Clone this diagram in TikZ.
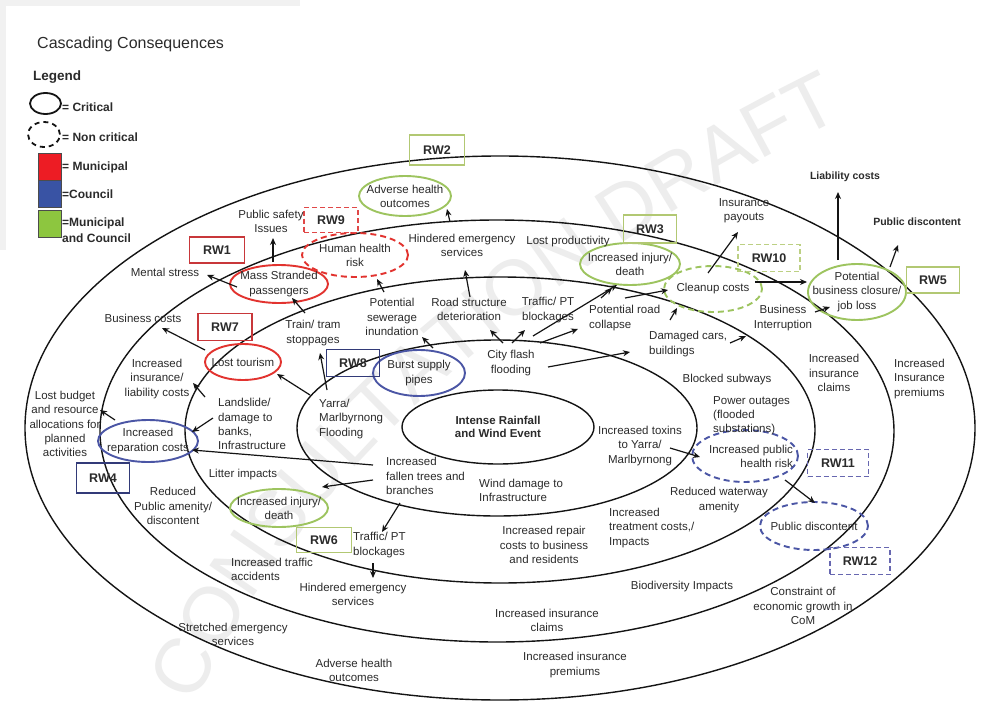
\documentclass[tikz,border=0pt]{standalone}
\usepackage{fontspec}
\setmainfont{Liberation Sans}
\usetikzlibrary{shapes.geometric,arrows.meta,decorations.text}

\definecolor{ink}{HTML}{2B2B2B}
\definecolor{ringc}{HTML}{141414}
\definecolor{mred}{HTML}{E2332F}
\definecolor{mblue}{HTML}{4B56A5}
\definecolor{mgreen}{HTML}{9DC45F}
\definecolor{swred}{HTML}{ED1C24}
\definecolor{swblue}{HTML}{3953A4}
\definecolor{swgreen}{HTML}{8DC63F}
\definecolor{boxred}{HTML}{C8373A}
\definecolor{boxgreen}{HTML}{B2C873}
\definecolor{boxnavy}{HTML}{323A78}
\definecolor{dashred}{HTML}{E04848}
\definecolor{dashgreen}{HTML}{BCD083}
\definecolor{dashblue}{HTML}{6767B0}
\definecolor{wmgray}{HTML}{EDEDED}
\definecolor{edgegray}{HTML}{F1F1F1}

\newcommand\wmfont{\fontsize{78}{78}\selectfont}

\begin{document}
\begin{tikzpicture}[x=1pt,y=-1pt,
  txt/.style={font=\fontsize{11.5}{14.2}\selectfont, text=ink, align=center, inner sep=1pt},
  boldtxt/.style={txt, font=\bfseries\fontsize{10.5}{13}\selectfont},
  legtxt/.style={font=\bfseries\fontsize{12}{15}\selectfont, text=ink, anchor=west, align=left, inner sep=0pt},
  ring/.style={ellipse, draw=ringc, line width=1.4pt, inner sep=0pt},
  bub/.style={ellipse, line width=1.9pt, inner sep=0pt},
  redE/.style={bub, draw=mred},
  blueE/.style={bub, draw=mblue},
  greenE/.style={bub, draw=mgreen},
  dashE/.style={dash pattern=on 6pt off 4pt},
  rwbox/.style={rectangle, line width=1.2pt, font=\bfseries\fontsize{12.5}{14}\selectfont, text=ink, inner sep=0pt},
  dashbox/.style={dash pattern=on 5pt off 3pt},
  arr/.style={line width=1.2pt, draw=ringc, -{Stealth[length=7pt,width=6pt]}},
]
\useasboundingbox (0,0) rectangle (1001,709);
\fill[white] (0,0) rectangle (1001,709);
\fill[edgegray] (0,0) rectangle (300,6);
\fill[edgegray] (0,0) rectangle (6,250);

% faint watermark along an arc
\path[decorate, decoration={text along path, text={|\wmfont|CONSULTATION DRAFT}, text color=wmgray}]
  (195,705) .. controls (300,470) and (545,255) .. (900,90);

% title and legend
\node[anchor=west, inner sep=0pt, text=ink, font=\fontsize{16}{18}\selectfont] (title) at (37,44) {Cascading Consequences};
\node[anchor=west, inner sep=0pt, text=ink, font=\bfseries\fontsize{13.5}{15}\selectfont] (legend) at (33,77) {Legend};
\node[ellipse, draw=ringc, line width=1.8pt, minimum width=31, minimum height=21, inner sep=0pt] (legcrit) at (45.5,103.5) {};
\node[legtxt] (legcritt) at (62,107) {= Critical};
\node[ellipse, draw=ringc, line width=1.8pt, dash pattern=on 5pt off 4pt, minimum width=32, minimum height=25, inner sep=0pt] (legnon) at (44,134.5) {};
\node[legtxt] (legnont) at (62,137) {= Non critical};
\node[rectangle, fill=swred, draw=black!70, line width=0.6pt, minimum width=23, minimum height=27, inner sep=0pt] (swr) at (49.5,166.5) {};
\node[rectangle, fill=swblue, draw=black!70, line width=0.6pt, minimum width=23, minimum height=27, inner sep=0pt] (swb) at (49.5,193.5) {};
\node[rectangle, fill=swgreen, draw=black!70, line width=0.6pt, minimum width=23, minimum height=27, inner sep=0pt] (swg) at (49.5,223.5) {};
\node[legtxt] (swrt) at (62,167) {= Municipal};
\node[legtxt] (swbt) at (62,194) {=Council};
\node[legtxt, font=\bfseries\fontsize{12}{16}\selectfont] (swgt) at (62,230) {=Municipal\\and Council};

% concentric rings
\node[ring, minimum width=950, minimum height=544] (ring5) at (500,428) {};
\node[ring, minimum width=794, minimum height=422] (ring4) at (497,431) {};
\node[ring, minimum width=630, minimum height=306] (ring3) at (500,430) {};
\node[ring, minimum width=400, minimum height=176] (ring2) at (497,428) {};
\node[ring, minimum width=192, minimum height=74, font=\bfseries\fontsize{11.5}{13}\selectfont, text=ink, align=center] (event) at (498,427) {Intense Rainfall\\and Wind Event};

% consequence bubbles
\node[redE, minimum width=98, minimum height=38, label={[txt]center:{Mass Stranded\\passengers}}] (mass) at (279,284) {};
\node[redE, dashE, minimum width=106, minimum height=44, label={[txt]center:{Human health\\risk}}] (humanrisk) at (355,255) {};
\node[greenE, minimum width=92, minimum height=40, label={[txt]center:{Adverse health\\outcomes}}] (adverse) at (405,196) {};
\node[redE, minimum width=76, minimum height=36, label={[txt]center:{Lost tourism}}] (losttour) at (243,362) {};
\node[blueE, minimum width=92, minimum height=46, label={[txt]center:{Burst supply\\pipes}}] (burst) at (419,373) {};
\node[greenE, minimum width=100, minimum height=42, label={[txt]center:{Increased injury/\\death}}] (injury1) at (630,264) {};
\node[greenE, dashE, minimum width=98, minimum height=46, label={[txt]center:{Cleanup costs}}] (cleanup) at (713,289) {};
\node[greenE, minimum width=98, minimum height=56, label={[txt]center:{Potential\\business closure/\\job loss}}] (bizclose) at (857,292) {};
\node[blueE, dashE, minimum width=106, minimum height=52, label={[txt, align=right, xshift=6]center:{Increased public\\health risk}}] (pubhealth) at (745,456) {};
\node[blueE, dashE, minimum width=108, minimum height=48, label={[txt]center:{Public discontent}}] (pubdisc2) at (814,526) {};
\node[blueE, minimum width=100, minimum height=42, label={[txt]center:{Increased\\reparation costs}}] (reparation) at (148,441) {};
\node[greenE, minimum width=98, minimum height=38, label={[txt]center:{Increased injury/\\death}}] (injury2) at (279,508) {};

% responsibility boxes
\node[rwbox, draw=boxred, minimum width=55, minimum height=26] (rw1) at (217,250) {RW1};
\node[rwbox, draw=boxgreen, minimum width=55, minimum height=30] (rw2) at (437,150) {RW2};
\node[rwbox, draw=boxgreen, minimum width=53, minimum height=28] (rw3) at (650,229) {RW3};
\node[rwbox, draw=boxnavy, minimum width=53, minimum height=30] (rw4) at (103,478) {RW4};
\node[rwbox, draw=boxgreen, minimum width=53, minimum height=26] (rw5) at (933,280) {RW5};
\node[rwbox, draw=boxgreen, minimum width=55, minimum height=25] (rw6) at (324,540) {RW6};
\node[rwbox, draw=boxred, minimum width=54, minimum height=27] (rw7) at (225,327) {RW7};
\node[rwbox, draw=boxnavy, minimum width=53, minimum height=27] (rw8) at (353,363) {RW8};
\node[rwbox, dashbox, draw=dashred, minimum width=54, minimum height=25] (rw9) at (331,220) {RW9};
\node[rwbox, dashbox, draw=dashgreen, minimum width=62, minimum height=27] (rw10) at (769,258) {RW10};
\node[rwbox, dashbox, draw=dashblue, minimum width=61, minimum height=27] (rw11) at (838,463) {RW11};
\node[rwbox, dashbox, draw=dashblue, minimum width=60, minimum height=27] (rw12) at (860,561) {RW12};

% consequence texts
\node[txt] (mental) at (165,272) {Mental stress};
\node[txt] (pubsafe) at (271,221) {Public safety\\Issues};
\node[txt] (busc) at (143,318) {Business costs};
\node[txt] (train) at (313,333) {Train/ tram\\stoppages};
\node[txt] (sewer) at (392,317) {Potential\\sewerage\\inundation};
\node[txt] (road) at (469,309) {Road structure\\deterioration};
\node[txt] (traffic1) at (548,310) {Traffic/ PT\\blockages};
\node[txt] (hindered) at (462,245) {Hindered emergency\\services};
\node[txt] (lostprod) at (568,242) {Lost productivity};
\node[txt] (city) at (511,363) {City flash\\flooding};
\node[txt, anchor=west, align=left] (roadcol) at (588,318) {Potential road\\collapse};
\node[txt] (inspay) at (744,211) {Insurance\\payouts};
\node[txt] (bizint) at (783,318) {Business\\Interruption};
\node[boldtxt] (liab) at (845,177) {Liability costs};
\node[boldtxt] (pubdisc1) at (917,222) {Public discontent};
\node[txt, anchor=west, align=left] (damaged) at (648,344) {Damaged cars,\\buildings};
\node[txt] (blocked) at (727,380) {Blocked subways};
\node[txt, anchor=west, align=left] (power) at (712,416) {Power outages\\(flooded\\substations)};
\node[txt] (toxins) at (640,446) {Increased toxins\\to Yarra/\\Marlbyrnong};
\node[txt] (waterway) at (719,500) {Reduced waterway\\amenity};
\node[txt, anchor=west, align=left] (treat) at (608,528) {Increased\\treatment costs,/\\Impacts};
\node[txt] (insclaimR) at (834,373) {Increased\\insurance\\claims};
\node[txt, anchor=west, align=left] (inspremR) at (893,379) {Increased\\Insurance\\premiums};
\node[txt] (biodiv) at (682,587) {Biodiversity Impacts};
\node[txt] (constraint) at (803,606) {Constraint of\\economic growth in\\CoM};
\node[txt] (repair) at (544,545) {Increased repair\\costs to business\\and residents};
\node[txt] (insclaimB) at (547,620) {Increased insurance\\claims};
\node[txt] (inspremB) at (575,665) {Increased insurance\\premiums};
\node[txt] (adverseB) at (354,670) {Adverse health\\outcomes};
\node[txt] (stretched) at (233,634) {Stretched emergency\\services};
\node[txt] (hinderedB) at (353,594) {Hindered emergency\\services};
\node[txt, anchor=west, align=left] (accidents) at (230,569) {Increased traffic\\accidents};
\node[txt, anchor=west, align=left] (traffic2) at (352,545) {Traffic/ PT\\blockages};
\node[txt] (litter) at (243,475) {Litter impacts};
\node[txt] (reduced) at (173,506) {Reduced\\Public amenity/\\discontent};
\node[txt] (lostbudget) at (65,424) {Lost budget\\and resource\\allocations for\\planned\\activities};
\node[txt] (insliab) at (157,379) {Increased\\insurance/\\liability costs};
\node[txt, anchor=west, align=left] (landslide) at (217,424) {Landslide/\\damage to\\banks,\\Infrastructure};
\node[txt, anchor=west, align=left] (yarra) at (318,419) {Yarra/\\Marlbyrnong\\Flooding};
\node[txt, anchor=west, align=left] (fallen) at (385,476) {Increased\\fallen trees and\\branches};
\node[txt, anchor=west, align=left] (wind) at (478,490) {Wind damage to\\Infrastructure};

% cascade arrows
\draw[arr] ([shift={(-42,3)}]mass.center) -- ([shift={(42,3)}]mental.center);
\draw[arr] ([shift={(-6,-22)}]mass.center) -- ([shift={(2,17)}]pubsafe.center);
\draw[arr] ([shift={(-8,-20)}]train.center) -- ([shift={(13,14)}]mass.center);
\draw[arr] ([shift={(-38,-12)}]losttour.center) -- ([shift={(19,10)}]busc.center);
\draw[arr] ([shift={(-8,-24)}]yarra.west) -- ([shift={(34,12)}]losttour.center);
\draw[arr] ([shift={(9,-29)}]yarra.west) -- ([shift={(7,20)}]train.center);
\draw[arr] ([shift={(14,-25)}]burst.center) -- ([shift={(30,20)}]sewer.center);
\draw[arr] ([shift={(-8,-25)}]sewer.center) -- ([shift={(22,24)}]humanrisk.center);
\draw[arr] ([shift={(1,-12)}]road.center) -- ([shift={(3,25)}]hindered.center);
\draw[arr] ([shift={(-12,-23)}]hindered.center) -- ([shift={(42,13)}]adverse.center);
\draw[arr] ([shift={(-8,-20)}]city.center) -- ([shift={(21,21)}]road.center);
\draw[arr] ([shift={(1,-20)}]city.center) -- ([shift={(-23,20)}]traffic1.center);
\draw[arr] ([shift={(22,-27)}]city.center) -- ([shift={(-13,21)}]injury1.center);
\draw[arr] ([shift={(29,-20)}]city.center) -- ([shift={(-10,11)}]roadcol.west);
\draw[arr] ([shift={(37,4)}]city.center) -- ([shift={(-18,8)}]damaged.west);
\draw[arr] ([shift={(13,-20)}]roadcol.west) -- ([shift={(-18,24)}]injury1.center);
\draw[arr] ([shift={(37,-20)}]roadcol.west) -- ([shift={(-45,1)}]cleanup.center);
\draw[arr] ([shift={(22,-24)}]damaged.west) -- ([shift={(-36,19)}]cleanup.center);
\draw[arr] ([shift={(-5,-16)}]cleanup.center) -- ([shift={(-6,21)}]inspay.center);
\draw[arr] ([shift={(42,-7)}]cleanup.center) -- ([shift={(-50,-10)}]bizclose.center);
\draw[arr] ([shift={(32,-6)}]bizint.center) -- ([shift={(-27,15)}]bizclose.center);
\draw[arr] ([shift={(-19,-32)}]bizclose.center) -- ([shift={(-7,15)}]liab.center);
\draw[arr] ([shift={(33,-25)}]bizclose.center) -- ([shift={(-19,23)}]pubdisc1.center);
\draw[arr] ([shift={(82,-1)}]damaged.west) -- ([shift={(-37,18)}]bizint.center);
\draw[arr] ([shift={(30,2)}]toxins.center) -- ([shift={(-45,1)}]pubhealth.center);
\draw[arr] ([shift={(40,24)}]pubhealth.center) -- ([shift={(1,-23)}]pubdisc2.center);
\draw[arr] ([shift={(-12,-11)}]fallen.west) -- ([shift={(44,9)}]reparation.center);
\draw[arr] ([shift={(-12,4)}]fallen.west) -- ([shift={(43,-21)}]injury2.center);
\draw[arr] ([shift={(15,27)}]fallen.west) -- ([shift={(30,-13)}]traffic2.west);
\draw[arr] ([shift={(21,18)}]traffic2.west) -- ([shift={(20,-16)}]hinderedB.center);
\draw[arr] ([shift={(-4,-6)}]landslide.west) -- ([shift={(44,-9)}]reparation.center);
\draw[arr] ([shift={(-12,-27)}]landslide.west) -- ([shift={(36,4)}]insliab.center);
\draw[arr] ([shift={(-33,-21)}]reparation.center) -- ([shift={(35,-14)}]lostbudget.center);
\end{tikzpicture}
\end{document}
